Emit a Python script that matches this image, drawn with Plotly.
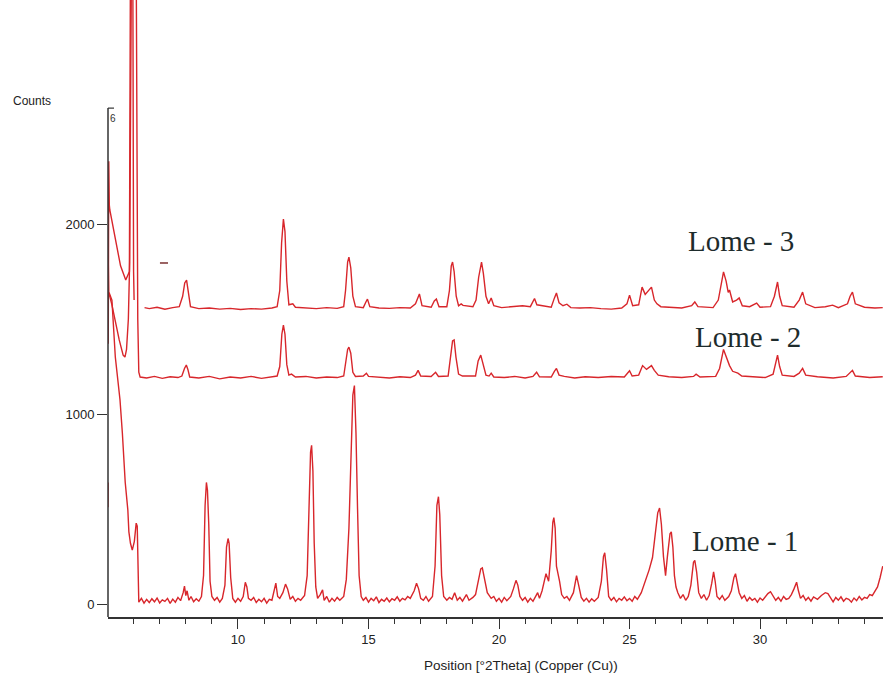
import plotly.graph_objects as go

# ---- Data (2theta in degrees, counts) ----
LOME1_LOW = [(5.02, 510), (5.025, 640), None,
             (5.06, 1640), (5.17, 1600), (5.3, 1300), (5.48, 1074), (5.57, 900),
             (5.68, 640), (5.78, 495), (5.82, 380), (5.88, 320), (5.95, 284),
             (6.03, 330), (6.1, 426), (6.14, 410), (6.17, 200), (6.2, 10)]

LOME1 = [
    (6.3, 30), (6.4, 5), (6.5, 25), (6.6, 8), (6.7, 28), (6.8, 12), (6.9, 32), (7.0, 6),
    (7.1, 22), (7.2, 14), (7.3, 30), (7.4, 4), (7.5, 26), (7.6, 10), (7.7, 35), (7.8, 18),
    (7.9, 60), (7.95, 95), (8.0, 45), (8.05, 70), (8.12, 20), (8.2, 40), (8.3, 12), (8.4, 28),
    (8.5, 15), (8.6, 40), (8.68, 150), (8.74, 520), (8.79, 640), (8.83, 600), (8.88, 420),
    (8.93, 120), (9.0, 40), (9.1, 20), (9.2, 35), (9.3, 10), (9.4, 30), (9.5, 100),
    (9.56, 300), (9.62, 345), (9.66, 320), (9.72, 140), (9.8, 30), (9.9, 10), (10.0, 30),
    (10.1, 15), (10.2, 40), (10.28, 115), (10.34, 90), (10.4, 30), (10.5, 20), (10.6, 35),
    (10.7, 8), (10.8, 25), (10.9, 12), (11.0, 30), (11.1, 5), (11.2, 25), (11.3, 20),
    (11.4, 80), (11.45, 110), (11.52, 40), (11.6, 30), (11.72, 60), (11.82, 105),
    (11.9, 80), (12.0, 25), (12.1, 40), (12.2, 15), (12.3, 30), (12.4, 20), (12.55, 45),
    (12.65, 150), (12.72, 500), (12.78, 800), (12.82, 835), (12.87, 700), (12.92, 320),
    (12.98, 90), (13.05, 30), (13.15, 50), (13.24, 75), (13.3, 20), (13.4, 40), (13.5, 10),
    (13.6, 30), (13.7, 15), (13.8, 35), (13.9, 20), (14.05, 40), (14.15, 130), (14.25, 400),
    (14.33, 800), (14.4, 1100), (14.46, 1150), (14.52, 900), (14.58, 500), (14.64, 150),
    (14.72, 40), (14.8, 20), (14.9, 35), (15.0, 10), (15.1, 30), (15.2, 18), (15.3, 38),
    (15.4, 8), (15.5, 25), (15.6, 15), (15.7, 32), (15.8, 12), (15.9, 28), (16.0, 20),
    (16.1, 38), (16.2, 15), (16.3, 30), (16.4, 22), (16.5, 40), (16.6, 30), (16.75, 70),
    (16.84, 110), (16.92, 80), (17.0, 30), (17.1, 20), (17.2, 40), (17.3, 15), (17.45, 40),
    (17.55, 200), (17.62, 520), (17.68, 565), (17.73, 470), (17.8, 150), (17.88, 40),
    (18.0, 20), (18.1, 35), (18.2, 25), (18.3, 60), (18.4, 20), (18.5, 35), (18.6, 15),
    (18.75, 50), (18.85, 20), (19.0, 35), (19.1, 50), (19.2, 120), (19.3, 185), (19.36, 190),
    (19.45, 120), (19.55, 60), (19.7, 30), (19.8, 40), (19.9, 15), (20.0, 30), (20.1, 10),
    (20.2, 35), (20.3, 18), (20.45, 40), (20.55, 80), (20.65, 125), (20.72, 100), (20.8, 40),
    (20.9, 20), (21.0, 35), (21.1, 10), (21.2, 30), (21.3, 15), (21.4, 40), (21.48, 60),
    (21.55, 30), (21.65, 70), (21.8, 160), (21.9, 120), (22.0, 280), (22.06, 430),
    (22.1, 455), (22.15, 400), (22.2, 200), (22.25, 170), (22.32, 120), (22.4, 50),
    (22.5, 30), (22.6, 40), (22.7, 20), (22.85, 60), (22.97, 150), (23.05, 100), (23.15, 35),
    (23.25, 15), (23.35, 30), (23.45, 10), (23.55, 28), (23.65, 15), (23.8, 35), (23.92, 120),
    (24.0, 250), (24.05, 270), (24.12, 180), (24.2, 40), (24.3, 20), (24.4, 35), (24.5, 12),
    (24.6, 30), (24.7, 20), (24.8, 38), (24.9, 18), (25.0, 30), (25.1, 15), (25.2, 40),
    (25.3, 25), (25.45, 60), (25.6, 120), (25.75, 180), (25.88, 245), (25.98, 360),
    (26.08, 480), (26.15, 505), (26.22, 420), (26.3, 250), (26.38, 150), (26.45, 250),
    (26.55, 370), (26.6, 380), (26.66, 300), (26.72, 150), (26.78, 90), (26.85, 60),
    (26.95, 30), (27.05, 50), (27.15, 20), (27.25, 40), (27.35, 100), (27.45, 220),
    (27.5, 230), (27.57, 170), (27.65, 60), (27.75, 30), (27.85, 50), (27.95, 20),
    (28.05, 45), (28.15, 110), (28.22, 170), (28.28, 120), (28.35, 40), (28.45, 25),
    (28.55, 45), (28.65, 20), (28.8, 40), (28.9, 70), (29.0, 140), (29.06, 160),
    (29.12, 120), (29.2, 60), (29.3, 30), (29.4, 45), (29.5, 15), (29.6, 35), (29.7, 20),
    (29.8, 30), (29.9, 10), (30.0, 32), (30.1, 20), (30.2, 40), (30.3, 55), (30.4, 65),
    (30.5, 40), (30.6, 20), (30.7, 35), (30.8, 15), (30.9, 40), (31.0, 25), (31.1, 30),
    (31.2, 50), (31.3, 80), (31.4, 115), (31.47, 70), (31.55, 30), (31.65, 45), (31.75, 20),
    (31.85, 35), (31.95, 15), (32.05, 38), (32.2, 25), (32.35, 45), (32.5, 60), (32.6, 55),
    (32.7, 30), (32.8, 12), (32.9, 35), (33.0, 20), (33.1, 38), (33.2, 15), (33.3, 30),
    (33.4, 25), (33.5, 10), (33.6, 32), (33.7, 18), (33.8, 40), (33.9, 22), (34.0, 35),
    (34.1, 30), (34.2, 50), (34.3, 45), (34.4, 70), (34.5, 90), (34.6, 140), (34.7, 200)]

LOME2_LOW = [(5.02, 1880), (5.05, 1640), (5.17, 1575), (5.3, 1480), (5.45, 1390),
             (5.6, 1310), (5.67, 1300), (5.73, 1340), (5.8, 1500), (5.85, 1800),
             (5.89, 2600), (5.92, 3400), (6.1, 3400), (6.13, 2300), (6.16, 1500),
             (6.2, 1220)]

LOME2 = [
    (6.25, 1195), (6.5, 1190), (6.8, 1198), (7.1, 1188), (7.4, 1196), (7.7, 1192),
    (7.85, 1200), (7.95, 1240), (8.02, 1258), (8.08, 1235), (8.15, 1195), (8.5, 1190),
    (8.9, 1198), (9.3, 1185), (9.7, 1195), (10.1, 1190), (10.5, 1198), (10.9, 1188),
    (11.3, 1196), (11.5, 1200), (11.6, 1250), (11.68, 1420), (11.74, 1468), (11.8, 1420),
    (11.87, 1260), (11.95, 1205), (12.05, 1210), (12.2, 1195), (12.6, 1198), (13.0, 1190),
    (13.4, 1195), (13.8, 1192), (14.05, 1200), (14.12, 1260), (14.2, 1340), (14.25, 1352),
    (14.32, 1320), (14.4, 1220), (14.5, 1198), (14.8, 1200), (14.92, 1215), (15.0, 1198),
    (15.4, 1195), (15.8, 1190), (16.2, 1196), (16.6, 1192), (16.8, 1205), (16.9, 1230),
    (17.0, 1200), (17.4, 1198), (17.57, 1220), (17.68, 1198), (18.05, 1200), (18.15, 1300),
    (18.22, 1385), (18.28, 1390), (18.35, 1300), (18.45, 1210), (18.6, 1200), (19.1, 1200),
    (19.2, 1280), (19.3, 1310), (19.4, 1260), (19.5, 1205), (19.62, 1200), (19.7, 1215),
    (19.8, 1195), (20.2, 1192), (20.6, 1198), (21.0, 1190), (21.3, 1198), (21.44, 1220),
    (21.55, 1196), (22.0, 1195), (22.12, 1225), (22.2, 1240), (22.3, 1205), (22.5, 1198),
    (22.9, 1190), (23.3, 1196), (23.8, 1192), (24.3, 1198), (24.8, 1195), (25.0, 1228),
    (25.1, 1200), (25.35, 1205), (25.5, 1255), (25.65, 1235), (25.84, 1255), (25.95, 1230),
    (26.1, 1205), (26.5, 1196), (27.0, 1192), (27.45, 1198), (27.55, 1210), (27.7, 1195),
    (28.3, 1198), (28.45, 1240), (28.6, 1340), (28.7, 1300), (28.83, 1255), (28.95, 1225),
    (29.15, 1215), (29.3, 1200), (29.7, 1196), (30.2, 1192), (30.5, 1210), (30.67, 1310),
    (30.75, 1250), (30.85, 1205), (31.3, 1198), (31.5, 1215), (31.63, 1240), (31.75, 1205),
    (32.2, 1196), (32.8, 1190), (33.3, 1198), (33.45, 1215), (33.54, 1230), (33.65, 1200),
    (34.2, 1192), (34.7, 1196)]

LOME3_LOW = [(5.03, 1370), (5.05, 2330), (5.07, 2100), (5.09, 2074), (5.2, 2000),
             (5.35, 1880), (5.5, 1780), (5.7, 1705), (5.84, 1750), (5.88, 3400),
             (5.97, 3400), (6.0, 1750), (6.02, 1600)]

LOME3 = [
    (6.42, 1560), (6.6, 1555), (6.9, 1562), (7.2, 1552), (7.5, 1560), (7.75, 1565),
    (7.88, 1620), (7.96, 1690), (8.03, 1705), (8.1, 1640), (8.18, 1565), (8.5, 1555),
    (8.9, 1558), (9.3, 1552), (9.7, 1556), (10.1, 1550), (10.5, 1555), (10.9, 1552),
    (11.3, 1558), (11.5, 1565), (11.6, 1650), (11.67, 1900), (11.74, 2026), (11.8, 1960),
    (11.87, 1700), (11.95, 1575), (12.1, 1580), (12.2, 1562), (12.6, 1558), (13.0, 1555),
    (13.4, 1560), (13.8, 1556), (14.05, 1565), (14.12, 1650), (14.2, 1800), (14.25, 1826),
    (14.32, 1770), (14.4, 1620), (14.5, 1565), (14.8, 1560), (14.9, 1590), (14.96, 1605),
    (15.05, 1565), (15.4, 1558), (15.8, 1556), (16.2, 1560), (16.6, 1558), (16.8, 1580),
    (16.95, 1632), (17.05, 1570), (17.4, 1562), (17.52, 1595), (17.6, 1605), (17.7, 1565),
    (18.0, 1565), (18.1, 1650), (18.17, 1780), (18.22, 1800), (18.28, 1750), (18.36, 1620),
    (18.45, 1570), (18.55, 1580), (18.62, 1572), (19.0, 1565), (19.12, 1600), (19.22, 1720),
    (19.33, 1800), (19.4, 1740), (19.5, 1620), (19.6, 1580), (19.7, 1611), (19.8, 1570),
    (20.1, 1560), (20.5, 1565), (20.9, 1570), (21.2, 1565), (21.36, 1608), (21.45, 1575),
    (22.0, 1562), (22.12, 1610), (22.2, 1637), (22.3, 1585), (22.45, 1570), (22.6, 1578),
    (22.75, 1560), (23.1, 1558), (23.5, 1560), (23.9, 1555), (24.3, 1552), (24.7, 1558),
    (24.9, 1580), (25.0, 1626), (25.12, 1570), (25.35, 1575), (25.48, 1668), (25.6, 1630),
    (25.72, 1650), (25.84, 1668), (25.95, 1600), (26.05, 1580), (26.2, 1565), (26.6, 1560),
    (27.0, 1558), (27.38, 1570), (27.5, 1590), (27.62, 1565), (28.2, 1560), (28.4, 1600),
    (28.5, 1680), (28.6, 1748), (28.7, 1700), (28.78, 1640), (28.83, 1653), (28.95, 1590),
    (29.1, 1600), (29.2, 1611), (29.32, 1570), (29.6, 1565), (29.87, 1584), (30.0, 1562),
    (30.4, 1565), (30.55, 1620), (30.67, 1695), (30.75, 1620), (30.85, 1570), (31.3, 1562),
    (31.5, 1600), (31.63, 1642), (31.75, 1580), (32.1, 1560), (32.5, 1565), (32.78, 1573),
    (33.0, 1560), (33.35, 1580), (33.45, 1620), (33.54, 1642), (33.65, 1580), (34.0, 1562),
    (34.4, 1558), (34.7, 1560)]

SERIES_NAMES = ["Lome - 1", "Lome - 2", "Lome - 3"]
LABEL_POS = [(29.43, 332), (29.54, 1405), (29.27, 1911)]   # (2theta, counts) of label centres
Y_TICKS = [0, 1000, 2000]
X_TICKS = [10, 15, 20, 25, 30]
X_RANGE = [5.02, 34.71]
Y_RANGE = [-68, 3179]
AXIS_TOP = 2610
DASH_MARK = [(7.01, 1795), (7.32, 1795)]

RED = "#d8262b"
AXIS_C = "#333333"


def split(points):
    xs, ys = [], []
    for p in points:
        if p is None:
            xs.append(None)
            ys.append(None)
        else:
            xs.append(p[0])
            ys.append(p[1])
    return xs, ys


fig = go.Figure()
for name, low, main in [("Lome - 1", LOME1_LOW, LOME1),
                        ("Lome - 2", LOME2_LOW, LOME2),
                        ("Lome - 3", LOME3_LOW, LOME3)]:
    if name == "Lome - 3":
        pts = low + [None] + main
    else:
        pts = low + main
    xs, ys = split(pts)
    fig.add_trace(go.Scatter(x=xs, y=ys, mode="lines", name=name,
                             line=dict(color=RED, width=1.4), connectgaps=False,
                             showlegend=False, hoverinfo="skip"))

dx, dy = split(DASH_MARK)
fig.add_trace(go.Scatter(x=dx, y=dy, mode="lines", line=dict(color="#7a3030", width=1.5),
                         showlegend=False, hoverinfo="skip"))

for name, (lx, ly) in zip(SERIES_NAMES, LABEL_POS):
    fig.add_annotation(x=lx, y=ly, xref="x", yref="y", text=name, showarrow=False,
                       font=dict(family="Liberation Serif, Times New Roman, serif",
                                 size=29, color="#1e2c2c"),
                       xanchor="center", yanchor="middle")

# y axis line (only up to AXIS_TOP) with small cap
fig.add_shape(type="line", xref="paper", yref="y", x0=0, x1=0, y0=Y_RANGE[0], y1=AXIS_TOP,
              line=dict(color=AXIS_C, width=1.5))
fig.add_shape(type="line", xref="x", yref="y", x0=X_RANGE[0], x1=5.25, y0=AXIS_TOP, y1=AXIS_TOP,
              line=dict(color=AXIS_C, width=1.2))
fig.add_annotation(x=5.2, y=AXIS_TOP - 55, xref="x", yref="y", text="6", showarrow=False,
                   font=dict(family="Liberation Sans, Arial", size=10, color=AXIS_C),
                   xanchor="center", yanchor="middle")

fig.add_annotation(x=-0.098, y=0.836, xref="paper", yref="paper", text="Counts",
                   showarrow=False, xanchor="center", yanchor="middle",
                   font=dict(family="Liberation Sans, Arial", size=12, color="#222"))
fig.add_annotation(x=0.533, y=-0.078, xref="paper", yref="paper",
                   text="Position [°2Theta] (Copper (Cu))",
                   showarrow=False, xanchor="center", yanchor="middle",
                   font=dict(family="Liberation Sans, Arial", size=13.5, color="#222"))

fig.update_layout(
    width=883, height=679,
    margin=dict(l=108, r=0, t=0, b=62),
    paper_bgcolor="white", plot_bgcolor="white",
    xaxis=dict(range=X_RANGE, showgrid=False, zeroline=False, showline=True,
               linecolor=AXIS_C, linewidth=1.5, ticks="outside", ticklen=10,
               tickwidth=1.3, tickcolor=AXIS_C, tickvals=X_TICKS,
               tickfont=dict(family="Liberation Sans, Arial", size=13, color="#222"),
               minor=dict(dtick=1, tick0=0, ticks="outside", ticklen=5,
                          tickcolor=AXIS_C, tickwidth=1.2, showgrid=False)),
    yaxis=dict(range=Y_RANGE, showgrid=False, zeroline=False, showline=False,
               ticks="outside", ticklen=10, tickwidth=1.3, tickcolor=AXIS_C,
               tickvals=Y_TICKS,
               tickfont=dict(family="Liberation Sans, Arial", size=13, color="#222")),
)

fig.write_html("out.html", config={"displayModeBar": False},
               post_script="document.body.style.margin='0';document.body.style.overflow='hidden';")
